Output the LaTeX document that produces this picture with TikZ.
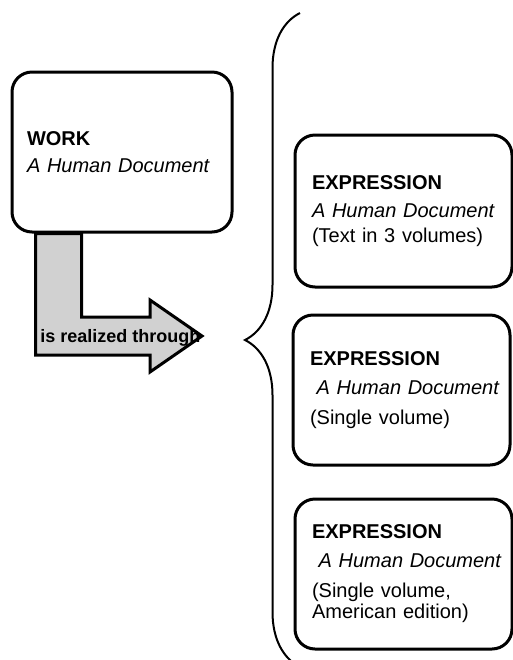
\documentclass[tikz,border=0pt]{standalone}
\usepackage{fontspec}
\setmainfont{Liberation Sans}
\usepackage{tikz}
\usetikzlibrary{calc,positioning,decorations.pathreplacing}
\tikzset{
        card/.style = {draw, rectangle, rounded corners=10pt,
            line width=1.5pt, fill=white, align=left,
            font=\fontsize{10}{12}\selectfont,
            inner xsep=8.5pt, text width=91.5pt,
            minimum width=108.5pt, minimum height=75pt},
        flow/.style = {draw, line width=1.5pt, fill=black!18, line join=miter},
        flowtext/.style = {font=\bfseries\fontsize{9}{10}\selectfont,
            anchor=base west, inner sep=0pt},
        bracket/.style = {draw, line width=1pt, decorate,
            decoration={brace, amplitude=27.5pt, aspect=0.5}},
    }

\begin{document}
\begin{tikzpicture}[x=0.5pt,y=-0.5pt]
            \useasboundingbox (0,0) rectangle (513,660);
            \clip (0,0) rectangle (513,660);

            % the work and the bent arrow below it
            \node[card, inner xsep=7.5pt, text width=95pt,
                  minimum width=110pt, minimum height=80pt] (work) at (122,152)
                {\textbf{WORK}\\[1.5pt] \textit{A Human Document}};
            \coordinate (s1) at ($(work.south west)+(25,0)$);
            \coordinate (s2) at ($(work.south west)+(71,0)$);
            \coordinate (tip) at (202,336);
            \draw[flow] (s1) -- (s2) |- (150,317) -- (150,300) -- (tip)
                  -- (150,372) -- (150,355) -| (s1) -- cycle;
            \node[flowtext] (rel) at (40,342) {is realized through};

            % the expressions
            \node[card, minimum height=76pt] (ex1) at (403.5,211)
                {\textbf{EXPRESSION}\\[2pt] \textit{A Human Document}\\[0.5pt]
                 (Text in 3 volumes)};
            \node[card, below=12.5pt of ex1, xshift=-1pt] (ex2)
                {\textbf{EXPRESSION}\\[2.5pt] \mbox{\ \textit{A Human Document}}\\[3pt]
                 (Single volume)};
            \node[card, below=15.5pt of ex2, xshift=1pt] (ex3)
                {\textbf{EXPRESSION}\\[2.5pt] \mbox{\ \textit{A Human Document}}\\[3pt]
                 (Single volume,\\[-1.5pt] American edition)};

            \draw[bracket] (300,667) -- (300,13);
\end{tikzpicture}
\end{document}
